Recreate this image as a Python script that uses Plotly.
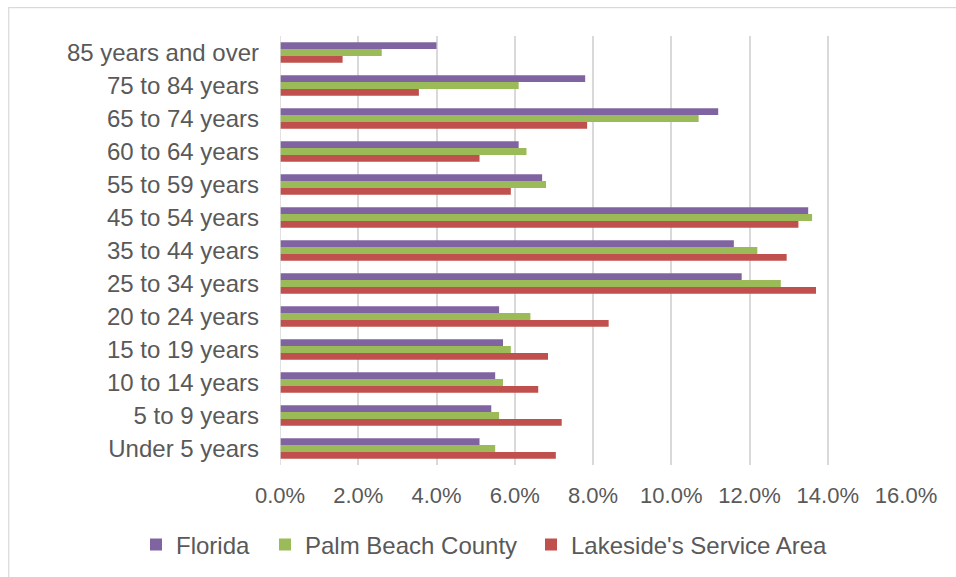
import plotly.graph_objects as go

# Age groups, listed top to bottom as they appear on the chart
age_groups = [
    "85 years and over", "75 to 84 years", "65 to 74 years", "60 to 64 years",
    "55 to 59 years", "45 to 54 years", "35 to 44 years", "25 to 34 years",
    "20 to 24 years", "15 to 19 years", "10 to 14 years", "5 to 9 years",
    "Under 5 years",
]

# Share of population (%) in each age group
florida = [4.0, 7.8, 11.2, 6.1, 6.7, 13.5, 11.6, 11.8, 5.6, 5.7, 5.5, 5.4, 5.1]
palm_beach = [2.6, 6.1, 10.7, 6.3, 6.8, 13.6, 12.2, 12.8, 6.4, 5.9, 5.7, 5.6, 5.5]
lakeside = [1.6, 3.55, 7.85, 5.1, 5.9, 13.25, 12.95, 13.7, 8.4, 6.85, 6.6, 7.2, 7.05]

x_ticks = [0, 2, 4, 6, 8, 10, 12, 14, 16]
x_tick_text = [f"{v:.1f}%" for v in x_ticks]

FONT = "Liberation Sans, Arial, sans-serif"
GREY_TEXT = "#595959"

# name, values, colour, legend id, legend left edge (px)
series = [
    ("Florida", florida, "#8064A2", "legend", 136),
    ("Palm Beach County", palm_beach, "#9BBB59", "legend2", 265),
    ("Lakeside's Service Area", lakeside, "#C0504D", "legend3", 531),
]

fig = go.Figure()
legends = {}
for name, values, color, legend_id, left_px in series:
    fig.add_trace(go.Bar(
        y=age_groups, x=values, name=name, orientation="h",
        marker=dict(color=color, line=dict(width=0)),
        legend=legend_id,
    ))
    legends[legend_id] = dict(
        orientation="h", xref="container", yref="container",
        x=left_px / 956, xanchor="left", y=1 - 545 / 577, yanchor="middle",
        font=dict(family=FONT, size=24, color=GREY_TEXT), itemwidth=30,
        bgcolor="rgba(0,0,0,0)",
    )

fig.update_layout(
    width=956, height=577,
    barmode="group", bargap=0.375, bargroupgap=0,
    paper_bgcolor="white", plot_bgcolor="white",
    margin=dict(l=279.5, r=50, t=35.5, b=111.5, autoexpand=False),
    font=dict(family=FONT, size=22, color=GREY_TEXT),
    showlegend=True,
    xaxis=dict(
        range=[0, 16], tickvals=x_ticks, ticktext=x_tick_text,
        showgrid=True, gridcolor="#D9D9D9", gridwidth=1.5,
        zeroline=False, showline=False, ticks="",
        tickfont=dict(size=22, color=GREY_TEXT), ticklabelstandoff=15,
    ),
    yaxis=dict(
        categoryorder="array", categoryarray=age_groups, autorange="reversed",
        showgrid=False, zeroline=False, showline=False, ticks="",
        tickfont=dict(size=24, color=GREY_TEXT), ticklabelstandoff=20,
    ),
    shapes=[
        # chart-area frame
        dict(type="rect", xref="paper", yref="paper",
             x0=(8 - 279.5) / 626.5, x1=1.2,
             y0=-0.4, y1=1 + (35.5 - 7) / 430,
             line=dict(color="#D9D9D9", width=1.2), layer="below"),
        # vertical axis line at zero
        dict(type="line", xref="x", yref="paper", x0=0, x1=0, y0=0, y1=1,
             line=dict(color="#D9D9D9", width=1.5)),
    ],
    **legends,
)

fig.write_html("out.html")
